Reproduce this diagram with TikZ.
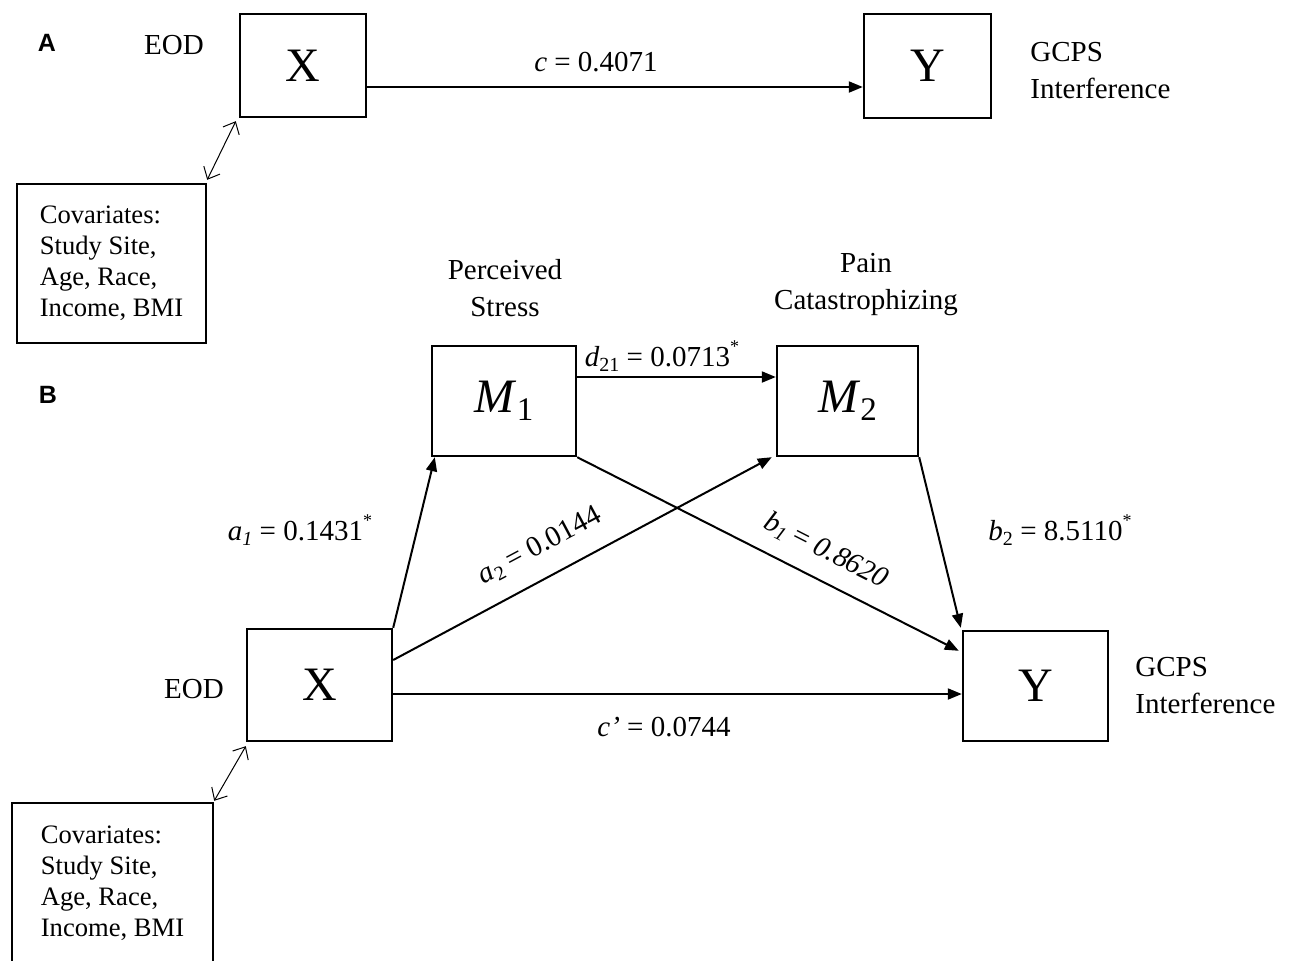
\documentclass[tikz,border=0pt]{standalone}
\usepackage{fontspec}
\setmainfont{Liberation Serif}
\newfontfamily\arialfont{Liberation Sans}
\usetikzlibrary{arrows.meta}
\newcommand\mysub[1]{\raisebox{-0.35ex}{\fontsize{10}{10}\selectfont #1}}
\newcommand\mysupr[1]{\raisebox{1.1ex}{\fontsize{9}{9}\selectfont #1}}
\begin{document}
\begin{tikzpicture}[x=0.5pt,y=-0.5pt,
  box/.style={draw, line width=1.2pt, inner sep=0pt},
  lbl/.style={font=\fontsize{14.5}{18.5}\selectfont, inner sep=0pt, align=center},
  big/.style={font=\fontsize{24}{26}\selectfont},
  cov/.style={font=\fontsize{13.3}{15.5}\selectfont, align=left},
  arr/.style={line width=1pt, -{Triangle[length=7pt,width=5.5pt]}},
  dbl/.style={line width=0.5pt, {Straight Barb[length=5pt,width=9pt]}-{Straight Barb[length=5pt,width=9pt]}},
  panel/.style={font=\arialfont\bfseries\fontsize{12.5}{14}\selectfont, inner sep=0pt}
]
\useasboundingbox (0,0) rectangle (1290,960);
\clip (0,0) rectangle (1290,960);

% ---------- Panel A ----------
\node[panel] (pA) at (47,43) {A};
\node[lbl] (eodA) at (174,45) {EOD};
\node[box, minimum width=63pt, minimum height=51.5pt, big] (XA) at (303,65.5) {X};
\node[box, minimum width=63.5pt, minimum height=52pt, big] (YA) at (927.5,66) {Y};
\node[lbl, anchor=west, align=left] (gA) at (1030,71) {GCPS\\Interference};
\node[box, minimum width=94.5pt, minimum height=79.5pt, cov] (CA) at (111.5,263.5) {Covariates:\\Study Site,\\Age, Race,\\Income, BMI};

\draw[arr] ([yshift=-10.75pt]XA.east) -- ([yshift=-10.75pt]XA.east -| YA.west);
\node[lbl] (cA) at (596,62) {\textit{c} = 0.4071};
\draw[dbl] ([yshift=1.5pt]CA.north east) -- ([shift={(-1.5pt,-1.5pt)}]XA.south west);

% ---------- Panel B ----------
\node[panel] (pB) at (48,395) {B};
\node[lbl] (ps) at (505,288) {Perceived\\Stress};
\node[lbl] (pc) at (866,285) {Pain\\Catastrophizing};
\node[box, minimum width=72pt, minimum height=55pt, big] (M1) at (504,401) {\textit{M}\mysub{\fontsize{16.5}{16}\selectfont 1}};
\node[box, minimum width=70.5pt, minimum height=55pt, big] (M2) at (847.5,401) {\textit{M}\mysub{\fontsize{16.5}{16}\selectfont 2}};
\node[box, minimum width=72.5pt, minimum height=56pt, big] (XB) at (319.5,685) {X};
\node[box, minimum width=72.5pt, minimum height=55pt, big] (YB) at (1035.5,686) {Y};
\node[lbl] (eodB) at (194,689) {EOD};
\node[lbl, anchor=west, align=left] (gB) at (1135,686) {GCPS\\Interference};
\node[box, minimum width=100.5pt, minimum height=80.5pt, cov] (CB) at (112.5,883.5) {Covariates:\\Study Site,\\Age, Race,\\Income, BMI};

\draw[arr] ([yshift=12pt]M1.east) -- ([yshift=12pt]M1.east -| M2.west);
\draw[arr] (XB.north east) -- ([xshift=2pt]M1.south west);
\draw[arr] ([yshift=12.5pt]XB.east) -- ([xshift=-2pt]M2.south west);
\draw[arr] (M1.south east) -- ([shift={(-1.5pt,-10.5pt)}]YB.north west);
\draw[arr] (M2.south east) -- ([shift={(-0.5pt,1pt)}]YB.north west);
\draw[arr] ([yshift=-4.5pt]XB.east) -- ([yshift=-4.5pt]XB.east -| YB.west);
\draw[dbl] ([yshift=0.5pt]CB.north east) -- ([shift={(0pt,-2pt)}]XB.south west);

\node[lbl] (la1) at (300,530) {\textit{a}\mysub{\textit{1}} = 0.1431\mysupr{*}};
\node[lbl, rotate=28] (la2) at (540,546) {\textit{a}\mysub{2} = 0.0144};
\node[lbl, rotate=-27] (lb1) at (826,551) {\textit{b}\mysub{\textit{1}} = \textit{0.8620}};
\node[lbl] (lb2) at (1060,530) {\textit{b}\mysub{2} = 8.5110\mysupr{*}};
\node[lbl] (lc) at (664,727) {\textit{c’} = 0.0744};
\node[lbl] (ld) at (662,356) {\textit{d}\mysub{21} = 0.0713\mysupr{*}};
\end{tikzpicture}
\end{document}
